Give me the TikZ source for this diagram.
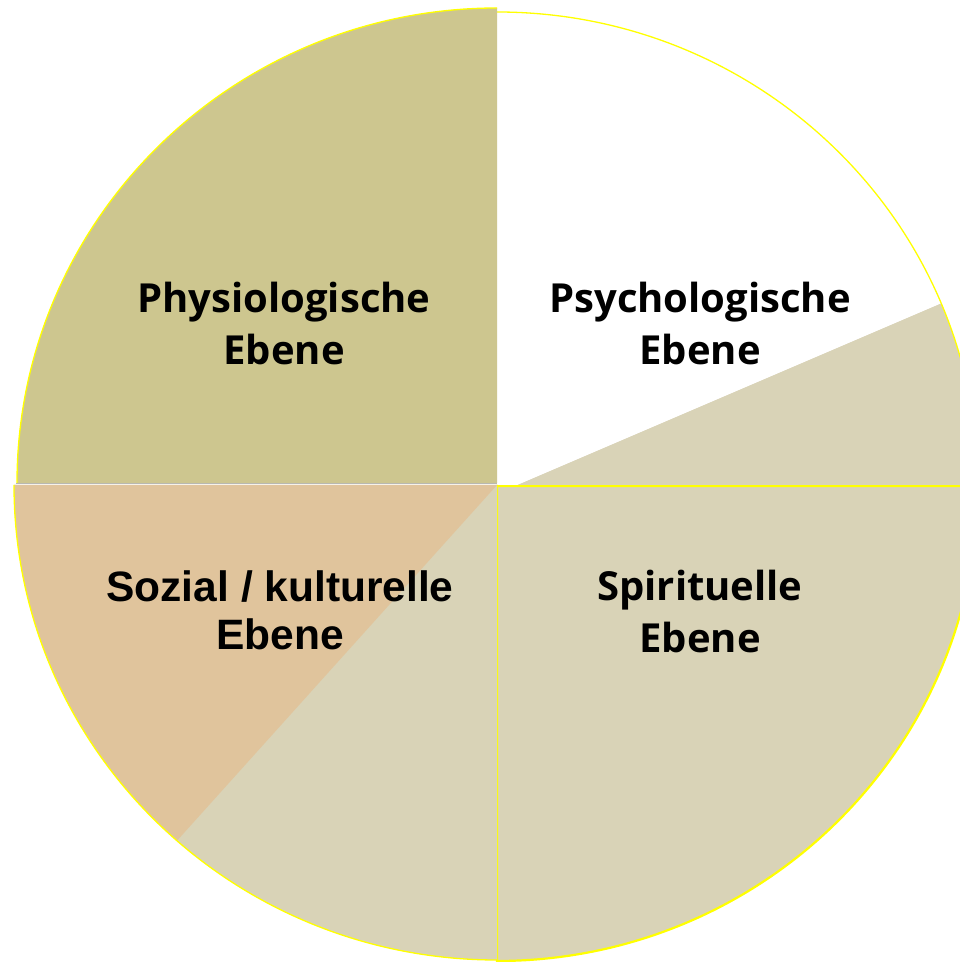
\documentclass[tikz,border=0pt]{standalone}
\usepackage{fontspec}
\usetikzlibrary{calc}
\newfontfamily\labfont{Open Sans}
\newfontfamily\arialfont{Liberation Sans}
\definecolor{olivefill}{HTML}{CDC68F}
\definecolor{beigefill}{HTML}{D9D3B7}
\definecolor{tanfill}{HTML}{E0C49C}
\definecolor{yel}{HTML}{FFFF00}
\definecolor{sepgray}{HTML}{B8B8B0}
\tikzset{
  lab/.style={font=\labfont\bfseries\fontsize{40}{52}\selectfont, align=center, inner sep=0pt, text=black},
  labA/.style={font=\arialfont\bfseries\fontsize{42.5}{48}\selectfont, align=center, inner sep=0pt, text=black},
  rim/.style={draw=yel, line width=1.3pt},
}
\begin{document}
\begin{tikzpicture}[x=1pt,y=1pt]
\useasboundingbox (0,0) rectangle (960,962);
\fill[white] (0,0) rectangle (960,962);
\clip (0,0) rectangle (960,962);
% bottom-right quadrant
\filldraw[fill=beigefill, draw=yel, line width=2.2pt] (497,476) -- (978,476)
  arc[start angle=0, end angle=-90, x radius=481, y radius=475] -- cycle;
% bottom-left quadrant
\fill[beigefill] (497,477) -- (14,477)
  arc[start angle=180, end angle=270, x radius=483, y radius=475] -- cycle;
\fill[tanfill] (497,477) -- (14,477)
  arc[start angle=180, end angle=228.5, x radius=483, y radius=475] -- cycle;
\draw[rim] (14,477) arc[start angle=180, end angle=270, x radius=483, y radius=475];
% top-right quadrant
\fill[beigefill] (517,477) -- (978,477)
  arc[start angle=0, end angle=22.6, x radius=481, y radius=473] -- cycle;
\fill[white] (498,477) -- (517,477) -- ($(497,477)+(22.6:481 and 473)$)
  arc[start angle=22.6, end angle=90, x radius=481, y radius=473] -- cycle;
\draw[rim] (978,477) arc[start angle=0, end angle=90, x radius=481, y radius=473];
% top-left quadrant
\fill[olivefill] (497,479) -- (17,479)
  arc[start angle=180, end angle=90, x radius=480, y radius=475] -- cycle;
\draw[rim] (17,479) arc[start angle=180, end angle=90, x radius=480, y radius=475];
\draw[sepgray, line width=1.5pt] (16,478.5) -- (497,478.5);
% labels
\node[lab] (phys) at (284,638) {Physiologische\\Ebene};
\node[lab] (psych) at (700,638) {Psychologische\\Ebene};
\node[lab] (spir) at (700,350) {Spirituelle\\Ebene};
\node[labA] (soz) at (280,352) {Sozial / kulturelle\\Ebene};
\end{tikzpicture}
\end{document}
